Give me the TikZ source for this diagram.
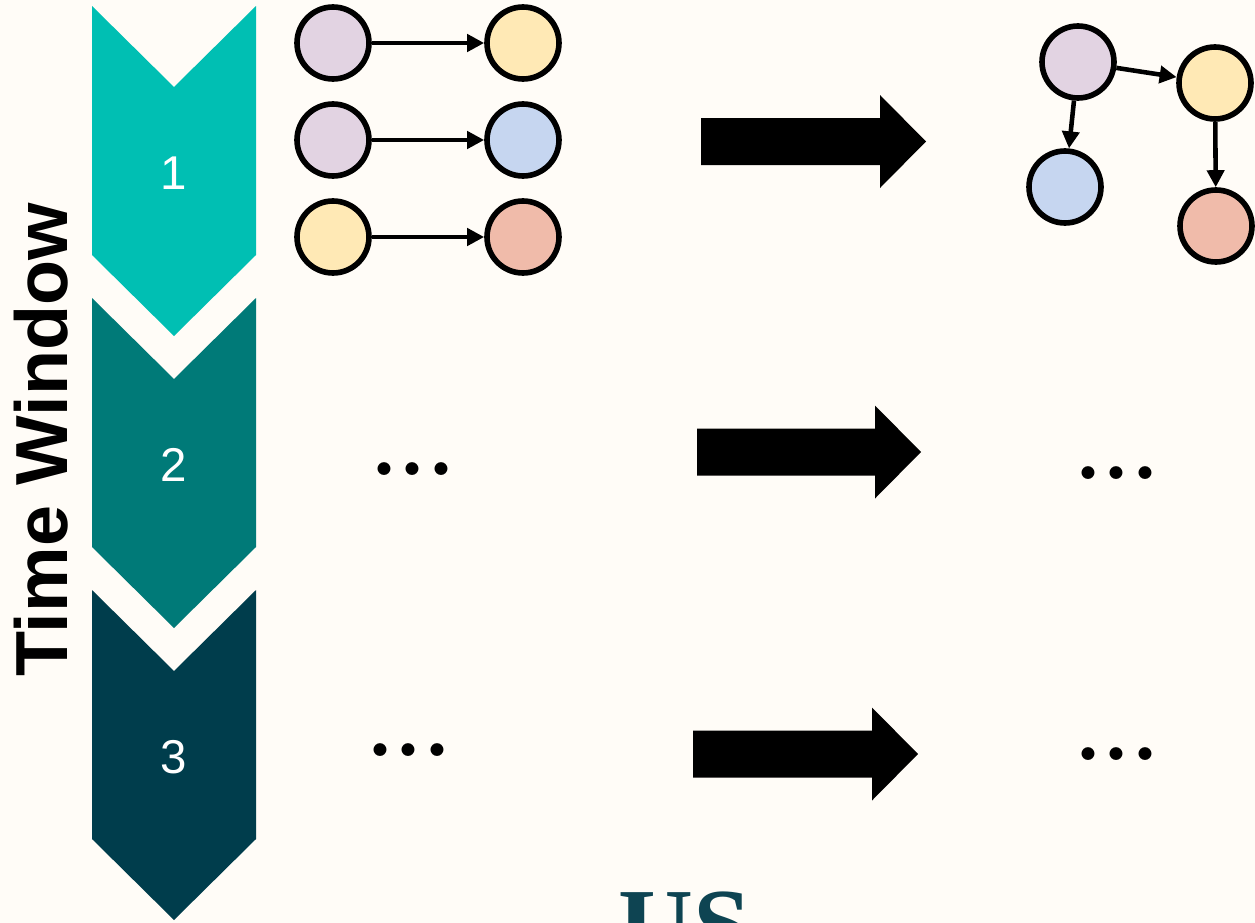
\documentclass[tikz,border=0pt]{standalone}
\usepackage{fontspec}
\setsansfont{Liberation Sans}
\newfontfamily\logofont{Liberation Serif}
\usetikzlibrary{arrows.meta}
\definecolor{bgcream}{HTML}{FFFCF7}
\definecolor{winA}{HTML}{00BFB3}
\definecolor{winB}{HTML}{007A78}
\definecolor{winC}{HTML}{003D4C}
\definecolor{vpurple}{HTML}{E2D3E2}
\definecolor{vyellow}{HTML}{FFE9B5}
\definecolor{vblue}{HTML}{C6D6F0}
\definecolor{vred}{HTML}{F0BBAA}
\definecolor{logoteal}{HTML}{0E4452}

\tikzset{
  vertex/.style={circle, draw=black, line width=3.2pt, minimum size=1.44cm, inner sep=0pt},
  edge/.style={line width=2.6pt, -{Triangle[length=0.34cm,width=0.34cm]}},
  winnum/.style={text=white, font=\sffamily\fontsize{27}{30}\selectfont},
  etc/.style={anchor=base, inner sep=0pt, font=\rmfamily\bfseries\fontsize{51}{60}\selectfont},
}

\begin{document}
\begin{tikzpicture}[x=0.02cm, y=-0.02cm]
    \useasboundingbox (0,0) rectangle (1255,923);
    \clip (0,0) rectangle (1255,923);
    \fill[bgcream] (0,0) rectangle (1255,923);

    % time window chevrons
    \foreach \t/\col/\n in {6/winA/1, 298/winB/2, 590/winC/3} {
      \fill[\col] (92,\t) -- (174,{\t+81}) -- (256,\t) -- (256,{\t+249})
          -- (174,{\t+330}) -- (92,{\t+249}) -- cycle;
      \node[winnum] (win\n) at (174,{\t+167}) {\n};
    }

    \node (axis) at (41,440) [rotate=90, font=\sffamily\bfseries\fontsize{42}{50}\selectfont]{Time Window};

    % pairs found in window 1
    \node (a1) at (333,43) [vertex, fill=vpurple]{};
    \node (b1) at (523,43) [vertex, fill=vyellow]{};
    \node (a2) at (333,140) [vertex, fill=vpurple]{};
    \node (b2) at (523,140) [vertex, fill=vblue]{};
    \node (a3) at (333,237) [vertex, fill=vyellow]{};
    \node (b3) at (523,237) [vertex, fill=vred]{};

     \draw[edge] (a1) -- (b1);
     \draw[edge] (a2) -- (b2);
     \draw[edge] (a3) -- (b3);

    % merged graph
    \node (g1) at (1078,62) [vertex, fill=vpurple]{};
    \node (g2) at (1215,83) [vertex, fill=vyellow]{};
    \node (g3) at (1065,187) [vertex, fill=vblue]{};
    \node (g4) at (1216,226) [vertex, fill=vred]{};

     \draw[edge] (g1) -- (g2);
     \draw[edge] (g1) -- (g3);
     \draw[edge] (g2) -- (g4);

    % block arrows
    \foreach \l/\r/\c in {701/926/141.5, 697/921/452, 693/918/754} {
      \fill[black] (\l,{\c-23.5}) -- ({\r-46},{\c-23.5}) -- ({\r-46},{\c-46.5}) -- (\r,\c)
          -- ({\r-46},{\c+46.5}) -- ({\r-46},{\c+23.5}) -- (\l,{\c+23.5}) -- cycle;
    }

    \node (etc2l) at (413,475) [etc]{...};
    \node (etc2r) at (1117,479) [etc]{...};
    \node (etc3l) at (409,756) [etc]{...};
    \node (etc3r) at (1117,760) [etc]{...};

    \node (logo) at (618,960) [anchor=base west, inner sep=0pt, text=logoteal,
        font=\logofont\bfseries\fontsize{59}{70}\selectfont]{US};
  \end{tikzpicture}
\end{document}
